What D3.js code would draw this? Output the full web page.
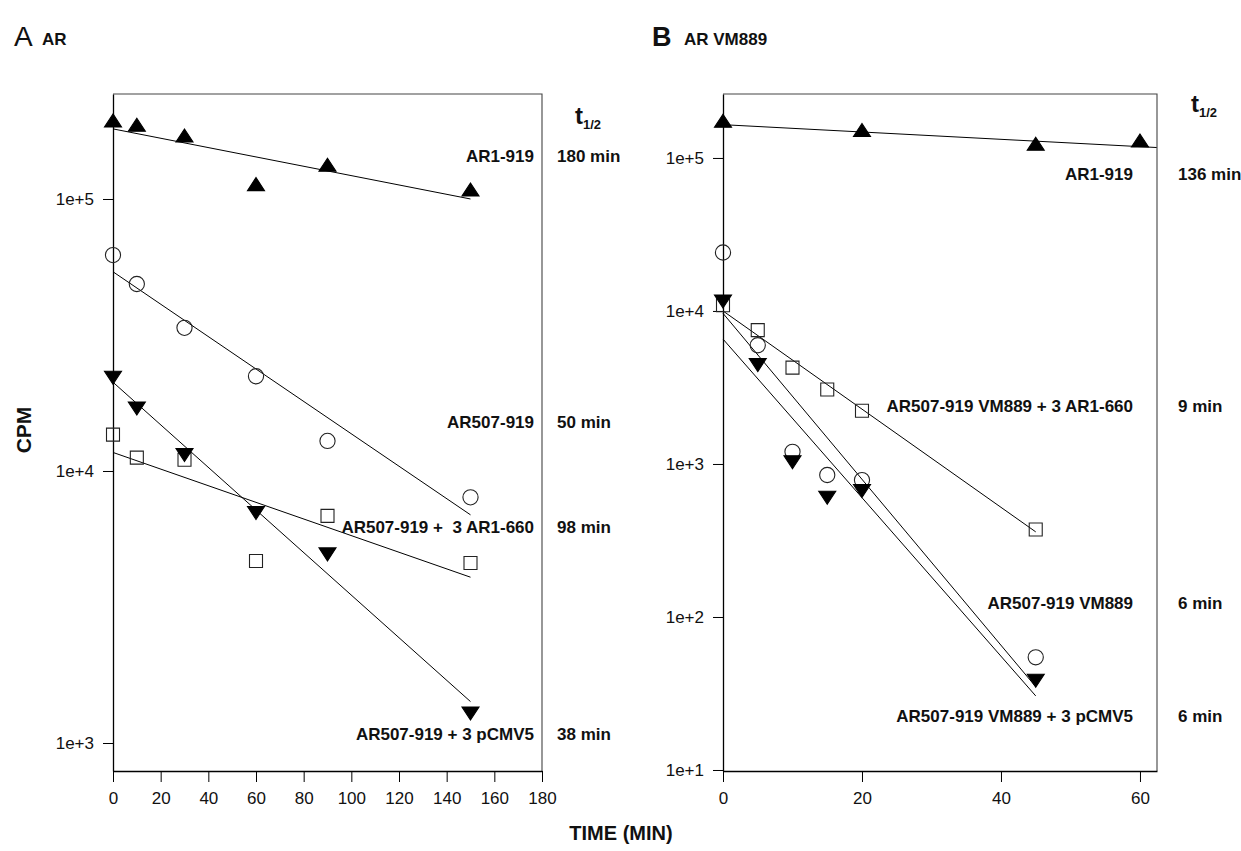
<!DOCTYPE html>
<html><head><meta charset="utf-8">
<script src="https://cdn.jsdelivr.net/npm/d3@7"></script>
<style>
body{margin:0;background:#fff}
svg{display:block}
text{font-family:"Liberation Sans",Arial,Helvetica,sans-serif;fill:#111;white-space:pre}
</style>
</head><body>
<svg id="chart" width="1241" height="851"></svg>
<script>
// ---------------- DATA ----------------
// Panel A: AR
const timesA = [0, 10, 30, 60, 90, 150];
const a_AR1_919      = [192000, 185000, 169000, 112000, 132000, 107000];   // filled up-triangle
const a_AR507_919    = [62200, 48700, 33600, 22300, 12900, 8000];          // open circle
const a_AR507_pCMV5  = [22300, 17200, 11600, 7100, 5000, 1300];            // filled down-triangle
const a_AR507_AR1660 = [13600, 11200, 11000, 4670, 6840, 4590];            // open square
// fitted lines (start / end), panel A
const a_fit_AR1_919      = [[0, 181000], [150, 100000]];
const a_fit_AR507_919    = [[0, 54000],  [150, 6900]];
const a_fit_AR507_pCMV5  = [[0, 21200],  [150, 1420]];
const a_fit_AR507_AR1660 = [[0, 11700],  [150, 4070]];
const labelsA = ["AR1-919", "AR507-919", "AR507-919 +  3 AR1-660", "AR507-919 + 3 pCMV5"];
const halfLivesA = ["180 min", "50 min", "98 min", "38 min"];
const xTicksA = [0, 20, 40, 60, 80, 100, 120, 140, 160, 180];
const yTicksA = [1e3, 1e4, 1e5];

// Panel B: AR VM889
const timesB_AR1 = [0, 20, 45, 60];
const b_AR1_919 = [171000, 149000, 121000, 127000];
const timesB = [0, 5, 10, 15, 20, 45];
const b_VM889        = [24100, 5970, 1200, 847, 785, 54.5];    // open circle
const b_VM889_pCMV5  = [11800, 4530, 1050, 615, 681, 39.2];    // filled down-triangle
const b_VM889_AR1660 = [10900, 7500, 4260, 3070, 2230, 373];   // open square
const b_fit_AR1_919      = [[0, 165000], [62.4, 117000]];
const b_fit_VM889        = [[0, 9650],   [45, 35]];
const b_fit_VM889_pCMV5  = [[0, 6550],   [45, 30.5]];
const b_fit_VM889_AR1660 = [[0, 10000],  [45, 360]];
const labelsB = ["AR1-919", "AR507-919 VM889 + 3 AR1-660", "AR507-919 VM889", "AR507-919 VM889 + 3 pCMV5"];
const halfLivesB = ["136 min", "9 min", "6 min", "6 min"];
const xTicksB = [0, 20, 40, 60];
const yTicksB = [1e1, 1e2, 1e3, 1e4, 1e5];

// ---------------- DRAWING ----------------
const svg = d3.select("#chart");
const font = '"Liberation Sans",Arial,Helvetica,sans-serif';

const shapes = {
  up:   "M0,-8L8.5,5L-8.5,5Z",
  down: "M0,8L8.5,-5L-8.5,-5Z",
  square: "M-6.5,-6.5H6.5V6.5H-6.5Z",
  circle: d3.arc()({innerRadius:0, outerRadius:7.6, startAngle:0, endAngle:2*Math.PI})
};
const styleFor = {
  up: {fill:"#000", stroke:"#000"},
  down: {fill:"#000", stroke:"#000"},
  square: {fill:"none", stroke:"#222"},
  circle: {fill:"none", stroke:"#222"}
};

function panel(cfg) {
  const g = svg.append("g");
  const x = d3.scaleLinear().domain(cfg.xDomain).range([cfg.left, cfg.right]);
  const y = d3.scaleLog().domain(cfg.yDomain).range([cfg.bottom, cfg.top]);

  // frame (top/right)
  g.append("path")
    .attr("d", `M${cfg.left},${cfg.top}H${cfg.right}V${cfg.bottom}`)
    .attr("fill", "none").attr("stroke", "#444").attr("stroke-width", 1.1);

  // axes
  const fmt = d => "1e+" + Math.round(Math.log10(d));
  const ya = g.append("g").attr("transform", `translate(${cfg.left},0)`)
    .call(d3.axisLeft(y).tickValues(cfg.yTicks).tickFormat(fmt).tickSizeInner(10).tickSizeOuter(0).tickPadding(9));
  const xa = g.append("g").attr("transform", `translate(0,${cfg.bottom})`)
    .call(d3.axisBottom(x).tickValues(cfg.xTicks).tickFormat(d3.format("d")).tickSizeInner(11).tickSizeOuter(0).tickPadding(10));
  [ya, xa].forEach(a => {
    a.select(".domain").attr("stroke", "#000").attr("stroke-width", 1.3);
    a.selectAll(".tick line").attr("stroke", "#000").attr("stroke-width", 1);
    a.selectAll(".tick text").attr("font-family", font).attr("font-size", 17).attr("fill", "#111");
  });

  // fit lines
  const line = d3.line().x(d => x(d[0])).y(d => y(d[1]));
  cfg.fits.forEach(f => {
    g.append("path").attr("d", line(f)).attr("fill", "none")
      .attr("stroke", "#000").attr("stroke-width", 1);
  });

  // markers
  cfg.series.forEach(s => {
    const pts = s.times.map((t, i) => [t, s.values[i]]);
    g.selectAll(null).data(pts).enter().append("path")
      .attr("d", shapes[s.shape])
      .attr("transform", d => `translate(${x(d[0])},${y(d[1])})`)
      .attr("fill", styleFor[s.shape].fill)
      .attr("stroke", styleFor[s.shape].stroke)
      .attr("stroke-width", 1.1);
  });

  // labels
  cfg.labels.forEach((txt, i) => {
    g.append("text").attr("x", cfg.labelX).attr("y", cfg.labelY[i])
      .attr("text-anchor", "end").attr("font-size", 17).attr("font-weight", "bold")
      .attr("xml:space", "preserve")
      .attr("dominant-baseline", "middle").text(txt);
    g.append("text").attr("x", cfg.hlX).attr("y", cfg.labelY[i])
      .attr("font-size", 17).attr("font-weight", "bold")
      .attr("dominant-baseline", "middle").text(cfg.halfLives[i]);
  });
  const t = g.append("text").attr("x", cfg.tX).attr("y", cfg.tY)
    .attr("font-size", 24).attr("font-weight", "bold");
  t.append("tspan").text("t");
  t.append("tspan").attr("font-size", 13).attr("dy", 5).text("1/2");
}

panel({
  left: 113, right: 542, top: 94, bottom: 771,
  xDomain: [0, 180], yDomain: [789, 243200],
  xTicks: xTicksA, yTicks: yTicksA,
  fits: [a_fit_AR1_919, a_fit_AR507_919, a_fit_AR507_AR1660, a_fit_AR507_pCMV5],
  series: [
    {times: timesA, values: a_AR1_919, shape: "up"},
    {times: timesA, values: a_AR507_919, shape: "circle"},
    {times: timesA, values: a_AR507_AR1660, shape: "square"},
    {times: timesA, values: a_AR507_pCMV5, shape: "down"}
  ],
  labels: labelsA, halfLives: halfLivesA,
  labelX: 534, hlX: 557, labelY: [158, 424, 529, 736],
  tX: 575, tY: 124
});

panel({
  left: 723, right: 1157, top: 94, bottom: 771,
  xDomain: [0, 62.45], yDomain: [9.85, 261800],
  xTicks: xTicksB, yTicks: yTicksB,
  fits: [b_fit_AR1_919, b_fit_VM889_AR1660, b_fit_VM889, b_fit_VM889_pCMV5],
  series: [
    {times: timesB_AR1, values: b_AR1_919, shape: "up"},
    {times: timesB, values: b_VM889, shape: "circle"},
    {times: timesB, values: b_VM889_AR1660, shape: "square"},
    {times: timesB, values: b_VM889_pCMV5, shape: "down"}
  ],
  labels: labelsB, halfLives: halfLivesB,
  labelX: 1133, hlX: 1178, labelY: [176, 408, 605, 718],
  tX: 1191, tY: 112
});

// panel titles
svg.append("text").attr("x", 14).attr("y", 46).attr("font-size", 28).text("A");
svg.append("text").attr("x", 42).attr("y", 45).attr("font-size", 17).attr("font-weight", "bold").text("AR");
svg.append("text").attr("x", 652).attr("y", 46).attr("font-size", 27).attr("font-weight", "bold").text("B");
svg.append("text").attr("x", 684).attr("y", 45).attr("font-size", 17).attr("font-weight", "bold").text("AR VM889");

// axis titles
svg.append("text").attr("transform", "translate(31,430) rotate(-90)")
  .attr("text-anchor", "middle").attr("font-size", 21).attr("font-weight", "bold").text("CPM");
svg.append("text").attr("x", 621).attr("y", 840)
  .attr("text-anchor", "middle").attr("font-size", 20).attr("font-weight", "bold").text("TIME (MIN)");
</script>
</body></html>
